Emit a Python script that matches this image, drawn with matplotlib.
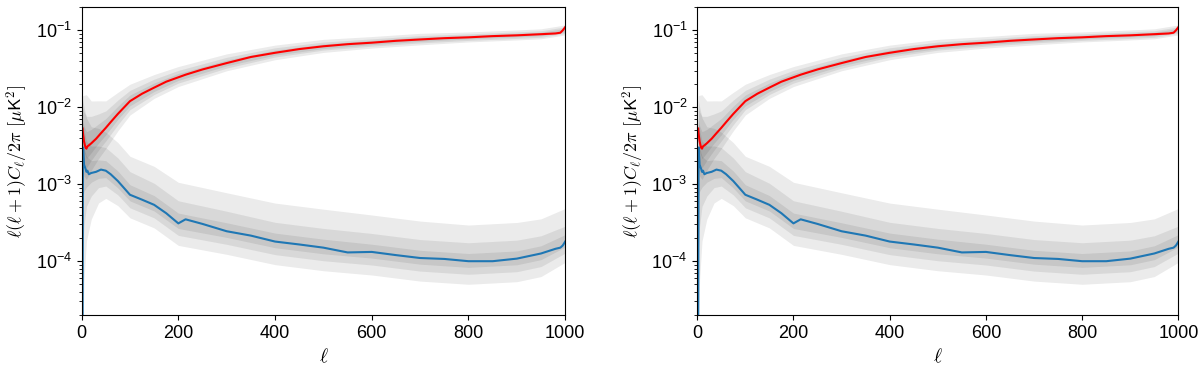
import numpy as np
import matplotlib
matplotlib.use('Agg')
import matplotlib.pyplot as plt

plt.rcParams['font.family'] = ['Liberation Sans', 'DejaVu Sans']
plt.rcParams['mathtext.fontset'] = 'custom'
plt.rcParams['mathtext.rm'] = 'Liberation Sans'
plt.rcParams['mathtext.it'] = 'Liberation Sans:italic'
plt.rcParams['mathtext.bf'] = 'Liberation Sans:bold'

# mean spectra
ell = [2, 3, 5, 8, 10, 12, 15, 20, 30, 40, 50, 60, 75, 100, 125, 150, 175, 200, 215,
       250, 300, 350, 400, 450, 500, 550, 600, 650, 700, 750, 800, 850, 900, 950,
       980, 990, 995, 1000]
red_cl = [5.3e-3, 4.5e-3, 3.6e-3, 3.0e-3, 2.9e-3, 3.1e-3, 3.2e-3, 3.4e-3, 3.9e-3, 4.6e-3,
          5.4e-3, 6.4e-3, 8.2e-3, 1.2e-2, 1.5e-2, 1.8e-2, 2.15e-2, 2.45e-2, 2.65e-2,
          3.1e-2, 3.75e-2, 4.5e-2, 5.1e-2, 5.7e-2, 6.2e-2, 6.6e-2, 6.9e-2, 7.3e-2, 7.6e-2,
          7.9e-2, 8.1e-2, 8.4e-2, 8.6e-2, 8.9e-2, 9.1e-2, 9.3e-2, 1.0e-1, 1.1e-1]
blue_cl = [1.0e-5, 3.0e-3, 1.8e-3, 1.6e-3, 1.45e-3, 1.5e-3, 1.35e-3, 1.4e-3, 1.45e-3, 1.55e-3,
           1.5e-3, 1.35e-3, 1.1e-3, 7.3e-4, 6.3e-4, 5.4e-4, 4.2e-4, 3.1e-4, 3.5e-4,
           3.05e-4, 2.45e-4, 2.15e-4, 1.8e-4, 1.65e-4, 1.5e-4, 1.3e-4, 1.32e-4, 1.2e-4,
           1.1e-4, 1.07e-4, 1.0e-4, 1.0e-4, 1.08e-4, 1.26e-4, 1.45e-4, 1.5e-4, 1.6e-4, 1.8e-4]

# scatter bands: centre values and edge offsets in dex
band_ell = [2, 5, 10, 20, 35, 50, 75, 100, 150, 200, 300, 400, 500, 600, 700, 800, 900, 950, 1000]
red_c = [5e-3, 3.6e-3, 2.9e-3, 3.4e-3, 4.3e-3, 5.4e-3, 8.2e-3, 1.2e-2, 1.8e-2, 2.45e-2,
         3.75e-2, 5.1e-2, 6.2e-2, 6.9e-2, 7.6e-2, 8.1e-2, 8.6e-2, 8.9e-2, 1.0e-1]
red_hi = [[0.15, 0.2, 0.22, 0.18, 0.15, 0.12, 0.1, 0.08, 0.06, 0.05, 0.04, 0.035, 0.03, 0.03, 0.03, 0.025, 0.025, 0.025, 0.025],
          [0.3, 0.38, 0.42, 0.35, 0.28, 0.22, 0.18, 0.14, 0.11, 0.09, 0.075, 0.065, 0.055, 0.05, 0.05, 0.045, 0.045, 0.045, 0.045],
          [0.45, 0.6, 0.7, 0.55, 0.45, 0.35, 0.28, 0.22, 0.17, 0.14, 0.12, 0.1, 0.09, 0.08, 0.08, 0.07, 0.07, 0.07, 0.07]]
red_lo = [[-0.15, -0.14, -0.13, -0.12, -0.1, -0.09, -0.07, -0.06, -0.05, -0.04, -0.035, -0.03, -0.03, -0.025, -0.025, -0.02, -0.02, -0.02, -0.02],
          [-0.3, -0.28, -0.25, -0.22, -0.19, -0.17, -0.14, -0.11, -0.09, -0.075, -0.065, -0.055, -0.05, -0.045, -0.045, -0.04, -0.04, -0.04, -0.04],
          [-0.5, -0.45, -0.4, -0.35, -0.3, -0.27, -0.22, -0.18, -0.14, -0.12, -0.1, -0.09, -0.08, -0.07, -0.07, -0.06, -0.06, -0.06, -0.06]]
blue_c = [2e-3, 1.8e-3, 1.45e-3, 1.4e-3, 1.5e-3, 1.5e-3, 1.1e-3, 7.3e-4, 5.4e-4, 3.2e-4,
          2.45e-4, 1.8e-4, 1.5e-4, 1.32e-4, 1.1e-4, 1.0e-4, 1.08e-4, 1.26e-4, 1.8e-4]
blue_hi = [[0.25, 0.22, 0.2, 0.16, 0.14, 0.13, 0.13, 0.13, 0.12, 0.12, 0.11, 0.11, 0.11, 0.1, 0.1, 0.1, 0.1, 0.1, 0.09],
           [0.5, 0.45, 0.4, 0.35, 0.32, 0.3, 0.3, 0.3, 0.28, 0.28, 0.26, 0.25, 0.25, 0.24, 0.24, 0.24, 0.24, 0.23, 0.2],
           [0.8, 0.75, 0.7, 0.6, 0.55, 0.5, 0.5, 0.5, 0.5, 0.52, 0.5, 0.5, 0.5, 0.48, 0.48, 0.47, 0.47, 0.45, 0.43]]
blue_lo = [[-0.5, -0.35, -0.2, -0.12, -0.1, -0.09, -0.09, -0.08, -0.08, -0.08, -0.08, -0.08, -0.08, -0.08, -0.08, -0.08, -0.08, -0.08, -0.07],
           [-1.2, -0.8, -0.45, -0.3, -0.22, -0.2, -0.18, -0.17, -0.17, -0.17, -0.17, -0.17, -0.17, -0.17, -0.17, -0.17, -0.17, -0.17, -0.15],
           [-2.5, -1.5, -0.9, -0.6, -0.42, -0.36, -0.32, -0.3, -0.3, -0.3, -0.3, -0.3, -0.3, -0.3, -0.3, -0.3, -0.3, -0.3, -0.27]]

xticks = [0, 200, 400, 600, 800, 1000]


def draw_panel(ax):
    bx = np.array(band_ell)
    for c, hi, lo in [(red_c, red_hi, red_lo), (blue_c, blue_hi, blue_lo)]:
        c = np.array(c)
        for k in range(3):
            ax.fill_between(bx, c * 10 ** np.array(lo[k]), c * 10 ** np.array(hi[k]),
                            color='k', alpha=0.08, lw=0)
    ax.plot(ell, red_cl, color='red', lw=1.5)
    ax.plot(ell, blue_cl, color='#1f77b4', lw=1.5)
    ax.set_yscale('log')
    ax.set_xlim(0, 1000)
    ax.set_ylim(2e-5, 0.2)
    ax.set_xticks(xticks)
    ax.tick_params(labelsize=13)
    ax.set_xlabel(r'$\ell$', fontsize=14, math_fontfamily='cm')
    ax.set_ylabel(r'$\ell(\ell+1)C_\ell/2\pi\ [\mu\mathsf{K}^2]$', fontsize=13,
                  math_fontfamily='cm')


fig = plt.figure(figsize=(12, 3.75), dpi=100)
ax1 = fig.add_axes([0.068, 0.16, 0.403, 0.821])
ax2 = fig.add_axes([0.581, 0.16, 0.401, 0.821])
draw_panel(ax1)
draw_panel(ax2)
fig.savefig('out.png', dpi=100)
